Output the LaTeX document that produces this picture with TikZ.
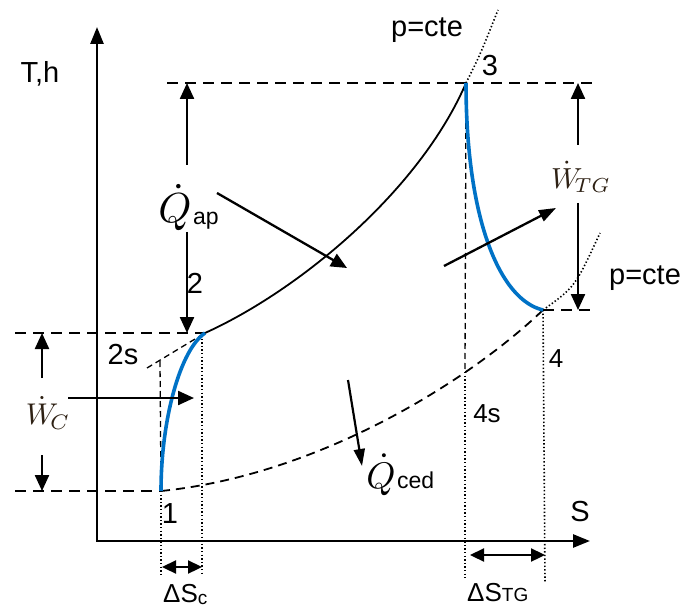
\documentclass[tikz,border=0pt]{standalone}
\usepackage{graphicx}
\usepackage{fontspec}
\setmainfont{Liberation Sans}
\usetikzlibrary{arrows.meta}
\definecolor{cycblue}{RGB}{0,114,198}
\definecolor{wcol}{HTML}{2E2114}
\begin{document}
\begin{tikzpicture}[x=1pt,y=-1pt,
  lab/.style={inner sep=0pt,font=\fontsize{29}{34}\selectfont},
  smlab/.style={inner sep=0pt,font=\fontsize{26}{31}\selectfont},
  axisline/.style={line width=2.6pt,line join=miter},
  arr/.style={line width=2.3pt,-{Triangle[length=16pt,width=14pt]}},
  darr/.style={line width=2.3pt,{Triangle[length=14pt,width=13pt]}-{Triangle[length=14pt,width=13pt]}},
  dashln/.style={line width=1.8pt,dash pattern=on 11pt off 7pt},
  thindash/.style={line width=1.3pt,dash pattern=on 6pt off 4pt},
  dotln/.style={line width=1.6pt,dash pattern=on 1.4pt off 2.2pt},
  blueln/.style={line width=3.6pt,cycblue},
  blackln/.style={line width=1.8pt}
]
\useasboundingbox (0,0) rectangle (684,609);
\fill[white] (0,0) rectangle (684,609);

% state points
\coordinate (p1) at (161,491);
\coordinate (p2) at (205,333);
\coordinate (p2s) at (160,361);
\coordinate (p2e) at (147,368);
\coordinate (p3) at (466,83);
\coordinate (p4) at (543,310);
\coordinate (p4s) at (465,372);

% axes
\coordinate (O) at (97,541);
\coordinate (ytip) at (97,27);
\coordinate (xtip) at (590,541);
\draw[axisline,{Triangle[length=17pt,width=13pt]}-{Triangle[length=17pt,width=13pt]}] (ytip) -- (O) -- (xtip);

% horizontal dashed guide lines
\coordinate (h3l) at (167,83);
\coordinate (h3r) at (597,83);
\coordinate (h2l) at (15,333);
\coordinate (h1l) at (15,491);
\coordinate (h4r) at (590,310);
\draw[dashln] (h3l) -- (h3r);
\draw[dashln] (h2l) -- (p2);
\draw[dashln] (h1l) -- (p1);
\draw[dashln] (p4) -- (h4r);

% vertical guide lines
\coordinate (d1b) at (161,576);
\coordinate (d2t) at (202,335);
\coordinate (d2b) at (202,576);
\coordinate (d3b) at (465,578);
\coordinate (d4b) at (545,582);
\draw[dotln] (p1) -- (d1b);
\draw[dotln] (d2t) -- (d2b);
\draw[thindash] (p3) -- (p4s);
\draw[dotln] (p4s) -- (d3b);
\draw[dotln] (p4) -- (d4b);
\draw[thindash] (p2e) -- (p2);
\draw[thindash] (p2s) -- (p1);

% cycle curves
\draw[blackln] (p2) .. controls (300,290) and (420,190) .. (p3);
\draw[line width=1.8pt,dash pattern=on 9pt off 6pt] (p1) .. controls (320,475) and (470,380) .. (p4);
\coordinate (e3) at (498,10);
\coordinate (e4) at (600,233);
\draw[dotln] (p3) .. controls (480,55) .. (e3);
\draw[dotln] (p4) .. controls (575,287) .. (e4);
\draw[blueln] (p1) .. controls (161,420) and (180,350) .. (p2);
\draw[blueln] (p3) .. controls (466,220) and (500,300) .. (p4);

% labels
\node[lab] (tTh) at (40,74) {T,h};
\node[lab] (tS) at (580,512) {S};
\node[lab] (t1) at (170,514) {1};
\node[lab] (t2) at (195,283) {2};
\node[lab] (t2s) at (123,355) {2s};
\node[lab] (t3) at (490,66) {3};
\node[smlab] (t4) at (556,359) {4};
\node[smlab] (t4s) at (487,414) {4s};
\node[lab] (pc1) at (427,30) {p=cte};
\node[lab] (pc2) at (645,278) {p=cte};

% heat added
\node[inner sep=0pt,anchor=base] (qap) at (175,223) {\scalebox{4.2}{$\dot{Q}$}};
\node[inner sep=0pt,anchor=base west,font=\fontsize{23}{27}\selectfont] (qaps) at (193,225) {ap};
\coordinate (qapu) at (187,165);
\coordinate (qapd) at (187,232);
\coordinate (qapt) at (187,83);
\coordinate (qapb) at (187,333);
\draw[arr] (qapu) -- (qapt);
\draw[arr] (qapd) -- (qapb);
\coordinate (qa1) at (217,193);
\coordinate (qa2) at (347,268);
\draw[arr] (qa1) -- (qa2);

% heat rejected
\node[inner sep=0pt,anchor=base] (qced) at (381,488) {\scalebox{3.7}{$\dot{Q}$}};
\node[inner sep=0pt,anchor=base west,font=\fontsize{23}{27}\selectfont] (qceds) at (397,488) {ced};
\coordinate (qc1) at (348,380);
\coordinate (qc2) at (362,466);
\draw[line width=2.2pt,-{Triangle[length=17pt,width=11pt]}] (qc1) -- (qc2);

% compressor work
\node[inner sep=0pt,text=wcol] (wc) at (48,413) {\scalebox{3}{$\dot{W}_{\!C}$}};
\coordinate (wcu) at (42,378);
\coordinate (wcut) at (42,333);
\coordinate (wcd) at (42,455);
\coordinate (wcdt) at (42,491);
\draw[arr] (wcu) -- (wcut);
\draw[arr] (wcd) -- (wcdt);
\coordinate (wch1) at (68,398);
\coordinate (wch2) at (194,398);
\draw[arr] (wch1) -- (wch2);

% turbine work
\node[inner sep=0pt,text=wcol] (wtg) at (581,177) {\scalebox{2.9}{$\dot{W}_{\!TG}$}};
\coordinate (wtu) at (578,145);
\coordinate (wtut) at (578,83);
\coordinate (wtd) at (578,203);
\coordinate (wtdt) at (578,310);
\draw[arr] (wtu) -- (wtut);
\draw[arr] (wtd) -- (wtdt);
\coordinate (wt1) at (444,266);
\coordinate (wt2) at (556,208);
\draw[line width=2.3pt,-{Triangle[length=17pt,width=12pt]}] (wt1) -- (wt2);

% entropy differences
\coordinate (dsc1) at (162,567);
\coordinate (dsc2) at (202,567);
\draw[darr] (dsc1) -- (dsc2);
\node[inner sep=0pt,anchor=base west,font=\fontsize{26}{31}\selectfont] (dsc) at (163,602) {ΔS\raisebox{-2pt}{\fontsize{19}{22}\selectfont c}};
\coordinate (dst1) at (470,555);
\coordinate (dst2) at (545,555);
\draw[darr] (dst1) -- (dst2);
\node[inner sep=0pt,anchor=base west,font=\fontsize{26}{31}\selectfont] (dstg) at (467,601) {ΔS{\fontsize{19}{22}\selectfont TG}};
\end{tikzpicture}
\end{document}
